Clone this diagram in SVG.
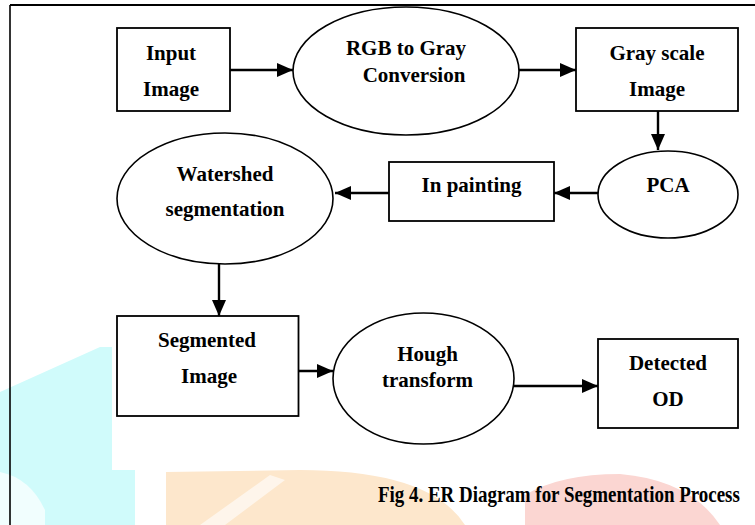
<svg xmlns="http://www.w3.org/2000/svg" width="755" height="525" viewBox="0 0 755 525">
  <defs>
    <marker id="arrow" markerUnits="userSpaceOnUse" markerWidth="16" markerHeight="14" refX="16" refY="7" orient="auto">
      <path d="M0,0 L16,7 L0,14 z" fill="#000"/>
    </marker>
    <style>
      .box { fill: #fff; stroke: #000; stroke-width: 1.8; }
      .ell { fill: #fff; stroke: #000; stroke-width: 1.6; }
      .lbl { font-family: "Liberation Serif", "DejaVu Serif", serif; font-weight: bold; font-size: 21px; fill: #000; text-anchor: middle; }
      .cap { font-family: "Liberation Serif", "DejaVu Serif", serif; font-weight: bold; font-size: 24px; fill: #000; }
      .conn { stroke: #000; stroke-width: 2.4; fill: none; marker-end: url(#arrow); }
    </style>
  </defs>
  <rect x="0" y="0" width="755" height="525" fill="#fff"/>
  <g id="watermark">
    <path d="M0,392 L100,347 L112,347 L112,470 L135,470 L135,525 L0,525 z" fill="#d0fbfb"/>
    <path d="M0,472 Q30,478 45,510 L45,525 L0,525 z" fill="#fff" opacity="0.7"/>
    <path d="M166,472 L300,470 Q430,470 465,525 L166,525 z" fill="#fde7cc"/>
    <path d="M200,525 L270,475 L285,480 L225,525 z" fill="#fff" opacity="0.6"/>
    <path d="M525,525 L525,495 Q560,474 620,474 Q690,480 720,525 z" fill="#fbd6d2"/>
  </g>
  <g id="frame">
    <line x1="10" y1="5" x2="755" y2="5" stroke="#000" stroke-width="2"/>
    <line x1="10" y1="5" x2="10" y2="525" stroke="#000" stroke-width="1.6"/>
  </g>
  <g id="connectors">
    <line class="conn" x1="230" y1="70" x2="293" y2="70"/>
    <line class="conn" x1="519" y1="70" x2="576" y2="70"/>
    <line class="conn" x1="658" y1="111" x2="658" y2="150"/>
    <line class="conn" x1="609" y1="193" x2="554" y2="193"/>
    <line class="conn" x1="389" y1="193" x2="335" y2="193"/>
    <line class="conn" x1="219" y1="264" x2="219" y2="316"/>
    <line class="conn" x1="294" y1="371" x2="333" y2="371"/>
    <line class="conn" x1="514" y1="386" x2="598" y2="386"/>
  </g>
  <g id="input-image">
    <rect class="box" x="117" y="28" width="113" height="83"/>
    <text class="lbl" x="171" y="60">Input</text>
    <text class="lbl" x="171" y="96">Image</text>
  </g>
  <g id="rgb-to-gray">
    <ellipse class="ell" cx="406" cy="71" rx="113" ry="64"/>
    <text class="lbl" x="406" y="55">RGB to Gray</text>
    <text class="lbl" x="414" y="82">Conversion</text>
  </g>
  <g id="gray-scale-image">
    <rect class="box" x="576" y="28" width="162" height="83"/>
    <text class="lbl" x="657" y="60">Gray scale</text>
    <text class="lbl" x="657" y="96">Image</text>
  </g>
  <g id="pca">
    <ellipse class="ell" cx="668" cy="194.5" rx="70" ry="43.5"/>
    <text class="lbl" x="668" y="192">PCA</text>
  </g>
  <g id="in-painting">
    <rect class="box" x="389" y="162" width="165" height="59"/>
    <text class="lbl" x="471.5" y="192">In painting</text>
  </g>
  <g id="watershed-segmentation">
    <ellipse class="ell" cx="225" cy="198.5" rx="108" ry="65.5"/>
    <text class="lbl" x="225" y="181">Watershed</text>
    <text class="lbl" x="225" y="216">segmentation</text>
  </g>
  <g id="segmented-image">
    <rect class="box" x="117" y="316" width="181.5" height="100"/>
    <text class="lbl" x="207" y="347">Segmented</text>
    <text class="lbl" x="209" y="383">Image</text>
  </g>
  <g id="hough-transform">
    <ellipse class="ell" cx="423.5" cy="378.5" rx="90.5" ry="65.5"/>
    <text class="lbl" x="427.5" y="361">Hough</text>
    <text class="lbl" x="427.5" y="387">transform</text>
  </g>
  <g id="detected-od">
    <rect class="box" x="598" y="339" width="140" height="89"/>
    <text class="lbl" x="668" y="370">Detected</text>
    <text class="lbl" x="668" y="406">OD</text>
  </g>
  <text class="cap" transform="matrix(0.79 0 0 1 378 502)" x="0" y="0">Fig 4. ER Diagram for Segmentation Process</text>
</svg>
